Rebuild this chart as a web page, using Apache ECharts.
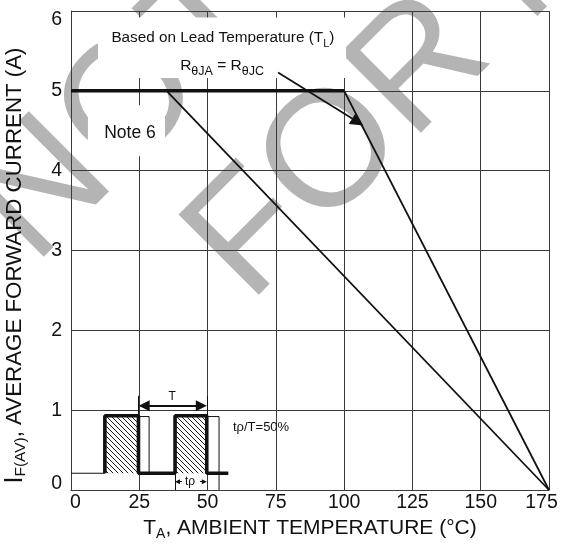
<!DOCTYPE html>
<html>
<head>
<meta charset="utf-8">
<script src="https://cdn.jsdelivr.net/npm/echarts@6/dist/echarts.min.js"></script>
<style>
  html, body { margin: 0; padding: 0; background: #fff; }
  #main { width: 561px; height: 544px; }
</style>
</head>
<body>
<div id="main"></div>
<script>
// derating curves: T_A (°C) -> I_F(AV) (A)
const flatLimit = [[0, 5], [100, 5]];
const leadDerating = [[100, 5], [175, 0]];
const ambientDerating = [[35, 5], [175, 0]];

// pulse sketch in the lower left, in chart units
const pulseThinBase = [[0, 0.21], [12.4, 0.21]];
const pulseTrain = [[12.4, 0.21], [12.4, 0.93], [24.7, 0.93], [24.7, 0.21], [38.1, 0.21],
  [38.1, 0.93], [49.7, 0.93], [49.7, 0.21], [57.6, 0.21]];
const pulseGhost1 = [[24.7, 0.92], [28.6, 0.92], [28.6, 0.21]];
const pulseGhost2 = [[49.7, 0.92], [54.2, 0.92], [54.2, 0]];
const hatchBoxes = [[12.4, 0.93, 24.7, 0.21], [38.1, 0.93, 49.7, 0.21]];
const dimLines = [
  [[24.8, 1.18], [24.8, 0.93]],
  [[49.7, 1.18], [49.7, 0.93]],
  [[38.1, 0.21], [38.1, 0]]
];
const periodArrow = [[26.8, 1.055], [47.7, 1.055]];
const widthArrows = [
  [[40.6, 0.104], [39.0, 0.104]],
  [[47.2, 0.104], [48.8, 0.104]]
];
const pointer = [[75.8, 5.23], [105, 4.61]];

// notes
const noteBoxes = [[9.9, 5.92, 100.7, 5.16], [6.2, 4.82, 34.4, 4.18]];
const noteTexts = ['Based on Lead Temperature (T{s|L})', 'R{s|θJA} = R{s|θJC}', 'Note 6',
  'T', 'tρ', 'tρ/T=50%'];
const noteAnchors = [[55.6, 5.66], [55.3, 5.32], [21.6, 4.47], [37, 1.17], [43.6, 0.1], [59.3, 0.78]];

const FONT = '"Liberation Sans", Arial, sans-serif';
const INK = '#111';

const chart = echarts.init(document.getElementById('main'));

function hatchPattern() {
  const c = document.createElement('canvas');
  c.width = 5; c.height = 5;
  const ctx = c.getContext('2d');
  ctx.strokeStyle = '#000';
  ctx.lineWidth = 0.9;
  ctx.beginPath();
  ctx.moveTo(-1, -1); ctx.lineTo(6, 6);
  ctx.moveTo(-1, 4); ctx.lineTo(1, 6);
  ctx.moveTo(4, -1); ctx.lineTo(6, 1);
  ctx.stroke();
  return c;
}
const hatch = hatchPattern();

const noteSize = [15.3, 15.5, 17.5, 12, 12, 13];
const subSize = [11, 12.5, 12, 9, 9, 10];

function plain(data, width) {
  return {
    type: 'line', data: data, symbol: 'none', silent: true, z: 3,
    lineStyle: { color: INK, width: width }
  };
}

const option = {
  animation: false,
  backgroundColor: '#fff',
  grid: { left: 71, right: 12, top: 11, bottom: 54, outerBoundsMode: 'none' },
  graphic: [
    {
      type: 'text', x: 2, y: 234, rotation: Math.PI / 4, z: -1, silent: true,
      style: { text: 'NOT RECOMMENDED', fontSize: 165, fontFamily: FONT, fill: '#b4b4b4',
        align: 'left', verticalAlign: 'middle' }
    },
    {
      type: 'text', x: 217, y: 272, rotation: Math.PI / 4, z: -1, silent: true,
      style: { text: 'FOR NEW DESIGN', fontSize: 165, fontFamily: FONT, fill: '#b4b4b4',
        align: 'left', verticalAlign: 'middle' }
    }
  ],
  xAxis: {
    type: 'value', min: 0, max: 175, interval: 25,
    axisLine: { show: true, lineStyle: { color: '#3a3a3a', width: 1 } },
    axisTick: { show: false },
    splitLine: { show: true, lineStyle: { color: '#3a3a3a', width: 1 } },
    axisLabel: {
      fontSize: 19.5, color: INK, fontFamily: FONT, margin: 3,
      formatter: v => v === 0 ? '{first|0}' : v === 175 ? '{last|175}' : String(v),
      rich: {
        first: { fontSize: 19.5, fontFamily: FONT, color: INK, padding: [0, 0, 0, 9] },
        last: { fontSize: 19.5, fontFamily: FONT, color: INK, padding: [0, 15, 0, 0] }
      }
    },
    name: 'T{s|A}, AMBIENT TEMPERATURE (°C)',
    nameLocation: 'middle', nameGap: 24,
    nameTextStyle: {
      fontSize: 21, color: INK, fontFamily: FONT,
      rich: { s: { fontSize: 14, fontFamily: FONT, color: INK, padding: [12, 0, 0, 0] } }
    }
  },
  yAxis: {
    type: 'value', min: 0, max: 6, interval: 1,
    axisLine: { show: true, lineStyle: { color: '#3a3a3a', width: 1 } },
    axisTick: { show: false },
    splitLine: { show: true, lineStyle: { color: '#3a3a3a', width: 1 } },
    axisLabel: {
      fontSize: 19.5, color: INK, fontFamily: FONT, margin: 9,
      formatter: v => v === 0 ? '{bot|0}' : v === 6 ? '{top|6}' : String(v),
      rich: {
        bot: { fontSize: 19.5, fontFamily: FONT, color: INK, padding: [0, 0, 13, 0] },
        top: { fontSize: 19.5, fontFamily: FONT, color: INK, padding: [18, 0, 0, 0] }
      }
    },
    name: '{b|I}{s|F(AV)}, AVERAGE FORWARD CURRENT (A)',
    nameLocation: 'middle', nameGap: 42,
    nameTextStyle: {
      fontSize: 22.3, color: INK, fontFamily: FONT, padding: [0, 30, 0, 0],
      rich: {
        b: { fontSize: 25, fontFamily: FONT, color: INK },
        s: { fontSize: 15.5, fontFamily: FONT, color: INK, padding: [12, 0, 0, 0] }
      }
    }
  },
  series: [
    {
      type: 'custom', z: 1, silent: true, data: noteBoxes,
      renderItem: (params, api) => {
        const a = api.coord([api.value(0), api.value(1)]);
        const b = api.coord([api.value(2), api.value(3)]);
        return { type: 'rect', shape: { x: a[0], y: a[1], width: b[0] - a[0], height: b[1] - a[1] },
          style: { fill: '#fff' } };
      }
    },
    {
      type: 'custom', z: 2, silent: true, data: hatchBoxes,
      renderItem: (params, api) => {
        const a = api.coord([api.value(0), api.value(1)]);
        const b = api.coord([api.value(2), api.value(3)]);
        return { type: 'rect', shape: { x: a[0], y: a[1], width: b[0] - a[0], height: b[1] - a[1] },
          style: { fill: { image: hatch, repeat: 'repeat' } } };
      }
    },
    plain(flatLimit, 3.5),
    plain(leadDerating, 1.8),
    plain(ambientDerating, 1.8),
    plain(pulseThinBase, 1.2),
    plain(pulseTrain, 3.6),
    plain(pulseGhost1, 1),
    plain(pulseGhost2, 1),
    {
      type: 'lines', coordinateSystem: 'cartesian2d', z: 4, silent: true,
      data: dimLines.map(c => ({ coords: c })),
      symbol: 'none', lineStyle: { color: INK, width: 1, opacity: 1 }
    },
    {
      type: 'lines', coordinateSystem: 'cartesian2d', z: 4, silent: true,
      data: [{ coords: periodArrow }],
      symbol: ['triangle', 'triangle'], symbolSize: 11,
      itemStyle: { color: INK }, lineStyle: { color: INK, width: 2, opacity: 1 }
    },
    {
      type: 'lines', coordinateSystem: 'cartesian2d', z: 4, silent: true,
      data: widthArrows.map(c => ({ coords: c })),
      symbol: ['none', 'triangle'], symbolSize: 5,
      itemStyle: { color: INK }, lineStyle: { color: INK, width: 1, opacity: 1 }
    },
    {
      type: 'lines', coordinateSystem: 'cartesian2d', z: 5, silent: true,
      data: [{ coords: pointer }],
      symbol: ['none', 'triangle'], symbolSize: 13,
      itemStyle: { color: INK }, lineStyle: { color: INK, width: 1.8, opacity: 1 }
    },
    {
      type: 'custom', z: 6, silent: true, data: noteAnchors,
      renderItem: (params, api) => {
        const i = params.dataIndex;
        const p = api.coord([api.value(0), api.value(1)]);
        return {
          type: 'text', x: p[0], y: p[1],
          style: {
            text: noteTexts[i], fontSize: noteSize[i], fontFamily: FONT, fill: INK,
            align: i === 5 ? 'left' : 'center', verticalAlign: 'middle',
            rich: { s: { fontSize: subSize[i], fontFamily: FONT, fill: INK, padding: [12, 0, 0, 0] } }
          }
        };
      }
    }
  ]
};

chart.setOption(option);
</script>
</body>
</html>
